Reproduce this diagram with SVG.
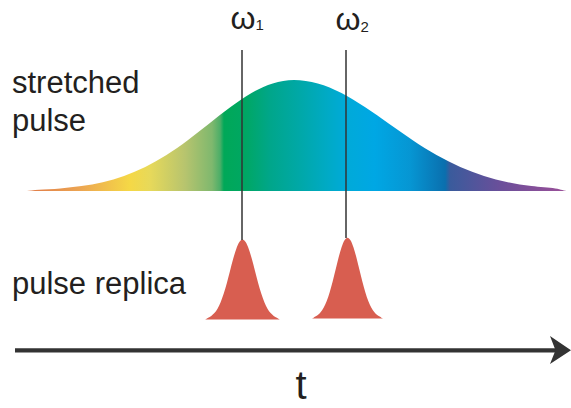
<svg xmlns="http://www.w3.org/2000/svg" xmlns:xlink="http://www.w3.org/1999/xlink" width="571" height="408" viewBox="0 0 571 408">
<style>
.lbl{font-family:"Liberation Sans",Arial,sans-serif;fill:#231f20}
.big{font-size:31px}
.om{font-size:32px}
.sub{font-size:15px}
.marker-line{stroke:#333;stroke-width:1.5;fill:none}
.pulse{fill:#d85e50}
.axis{stroke:#333;stroke-width:4.2;fill:none}
</style>
<defs>
<linearGradient id="spec" gradientUnits="userSpaceOnUse" x1="27" y1="0" x2="568" y2="0">
<stop offset="0" stop-color="#e07a48"/>
<stop offset="0.098" stop-color="#eca552"/>
<stop offset="0.19" stop-color="#f5d846"/>
<stop offset="0.227" stop-color="#e7d95a"/>
<stop offset="0.292" stop-color="#b7c46e"/>
<stop offset="0.342" stop-color="#7fb86e"/>
<stop offset="0.357" stop-color="#4cae68"/>
<stop offset="0.364" stop-color="#00a858"/>
<stop offset="0.403" stop-color="#00a763"/>
<stop offset="0.449" stop-color="#00a68a"/>
<stop offset="0.505" stop-color="#00a8a8"/>
<stop offset="0.56" stop-color="#00aac8"/>
<stop offset="0.588" stop-color="#00aad8"/>
<stop offset="0.643" stop-color="#00a7e4"/>
<stop offset="0.708" stop-color="#0696d3"/>
<stop offset="0.773" stop-color="#0a6fae"/>
<stop offset="0.782" stop-color="#3a5b9c"/>
<stop offset="0.874" stop-color="#6a4f9a"/>
<stop offset="1" stop-color="#9c4f98"/>
</linearGradient>
<path id="pulseShape" d="M-37.5,0 C-36.458,0 -35.417,-1.217 -34.375,-1.8 C-33.333,-2.383 -32.292,-2.733 -31.25,-3.5 C-30.208,-4.267 -29.167,-5.183 -28.125,-6.4 C-27.083,-7.617 -26.042,-8.983 -25,-10.8 C-23.958,-12.617 -22.917,-14.767 -21.875,-17.3 C-20.833,-19.833 -19.792,-22.783 -18.75,-26 C-17.708,-29.217 -16.667,-32.85 -15.625,-36.6 C-14.583,-40.35 -13.542,-44.533 -12.5,-48.5 C-11.458,-52.467 -10.417,-56.717 -9.375,-60.4 C-8.333,-64.083 -7.292,-67.75 -6.25,-70.6 C-5.208,-73.45 -4.167,-75.933 -3.125,-77.5 C-2.083,-79.067 -1.042,-80 0,-80 C1.042,-80 2.083,-79.067 3.125,-77.5 C4.167,-75.933 5.208,-73.45 6.25,-70.6 C7.292,-67.75 8.333,-64.083 9.375,-60.4 C10.417,-56.717 11.458,-52.467 12.5,-48.5 C13.542,-44.533 14.583,-40.35 15.625,-36.6 C16.667,-32.85 17.708,-29.217 18.75,-26 C19.792,-22.783 20.833,-19.833 21.875,-17.3 C22.917,-14.767 23.958,-12.617 25,-10.8 C26.042,-8.983 27.083,-7.617 28.125,-6.4 C29.167,-5.183 30.208,-4.267 31.25,-3.5 C32.292,-2.733 33.333,-2.383 34.375,-1.8 C35.417,-1.217 36.458,0 37.5,0 Z"/>
</defs>

<g id="stretched-pulse">
<path fill="url(#spec)" d="M27,191 C29,191 33.46,190.22 39,189.8 C44.54,189.38 53.17,189.12 60.25,188.5 C67.33,187.88 74.42,187.15 81.5,186.1 C88.58,185.05 95.67,183.88 102.75,182.2 C109.83,180.52 116.92,178.53 124,176 C131.08,173.47 138.17,170.5 145.25,167 C152.33,163.5 159.42,159.47 166.5,155 C173.58,150.53 180.67,145.42 187.75,140.2 C194.83,134.98 201.92,129.2 209,123.7 C216.08,118.2 223.17,112.32 230.25,107.2 C237.33,102.08 244.42,96.97 251.5,93 C258.58,89.03 265.67,85.57 272.75,83.4 C279.83,81.23 286.5,80 294,80 C301.5,80 309.83,81.23 317.75,83.4 C325.67,85.57 333.58,89.03 341.5,93 C349.42,96.97 357.33,102.08 365.25,107.2 C373.17,112.32 381.08,118.2 389,123.7 C396.92,129.2 404.83,134.98 412.75,140.2 C420.67,145.42 428.58,150.53 436.5,155 C444.42,159.47 452.33,163.5 460.25,167 C468.17,170.5 476.08,173.47 484,176 C491.92,178.53 499.83,180.52 507.75,182.2 C515.67,183.88 523.58,185.05 531.5,186.1 C539.42,187.15 549.17,187.68 555.25,188.5 C561.33,189.32 564,191 568,191 Z"/>
</g>

<g id="pulse-replica-1">
<use xlink:href="#pulseShape" href="#pulseShape" class="pulse" transform="translate(242.5,319.5)"/>
</g>
<g id="pulse-replica-2">
<use xlink:href="#pulseShape" href="#pulseShape" class="pulse" transform="translate(347.5,318.5) scale(0.95,1.01)"/>
</g>

<g id="connectors">
<line class="marker-line" x1="242" y1="50" x2="242" y2="240"/>
<line class="marker-line" x1="346" y1="50" x2="346" y2="238"/>
<line class="axis" x1="15" y1="350.3" x2="556" y2="350.3"/>
<path d="M571,350.3 L550,336 L555.5,350.3 L550,364 Z" fill="#333"/>
</g>

<g id="labels">
<text class="lbl big" x="12" y="93">stretched</text>
<text class="lbl big" x="12" y="131">pulse</text>
<text class="lbl big" x="12" y="294">pulse replica</text>
<text class="lbl om" x="230.5" y="28.5">ω<tspan class="sub" dy="1">1</tspan></text>
<text class="lbl om" x="335.5" y="29.5">ω<tspan class="sub" dy="2">2</tspan></text>
<text class="lbl" x="301" y="398.5" font-size="40" text-anchor="middle">t</text>
</g>
</svg>
